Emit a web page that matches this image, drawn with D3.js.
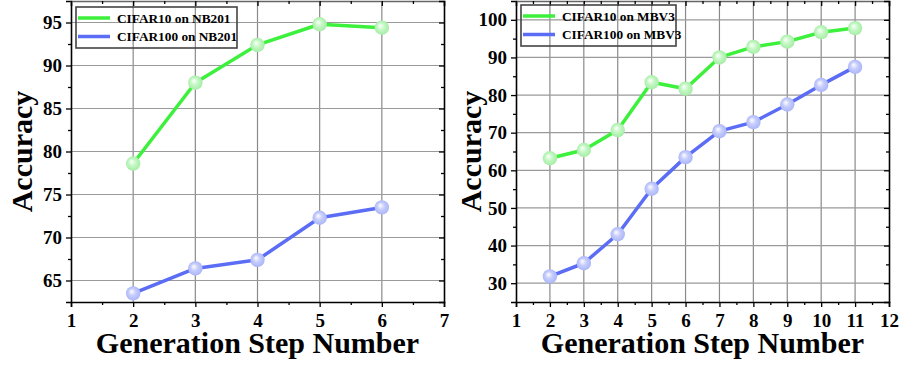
<!DOCTYPE html>
<html>
<head>
<meta charset="utf-8">
<script src="https://cdn.jsdelivr.net/npm/d3@7"></script>
<style>
  body { margin: 0; background: #fff; }
  svg { display: block; }
  text { font-family: "Liberation Serif", "Times New Roman", serif; font-weight: bold; fill: #000; }
</style>
</head>
<body>
<svg id="chart" width="914" height="366"></svg>
<script>
// NB201 panel
const nbSteps = [2, 3, 4, 5, 6];
const nbCifar10 = [78.6, 88.0, 92.4, 94.8, 94.4];
const nbCifar100 = [63.5, 66.4, 67.4, 72.3, 73.5];

// MBV3 panel
const mbSteps = [2, 3, 4, 5, 6, 7, 8, 9, 10, 11];
const mbCifar10 = [63.2, 65.4, 70.7, 83.4, 81.7, 90.0, 92.8, 94.2, 96.7, 97.8];
const mbCifar100 = [31.8, 35.3, 43.0, 55.1, 63.5, 70.4, 72.8, 77.5, 82.7, 87.5];

const nbXTicks = [1, 2, 3, 4, 5, 6, 7];
const nbYTicks = [65, 70, 75, 80, 85, 90, 95];
const mbXTicks = [1, 2, 3, 4, 5, 6, 7, 8, 9, 10, 11, 12];
const mbYTicks = [30, 40, 50, 60, 70, 80, 90, 100];

const greenLine = '#3cf03c';
const blueLine = '#5b6cf5';

const svg = d3.select('#chart');

// sphere-like marker gradients
const defs = svg.append('defs');
function sphere(id, base, edge) {
    const g = defs.append('radialGradient')
        .attr('id', id)
        .attr('cx', '50%').attr('cy', '50%').attr('r', '55%')
        .attr('fx', '38%').attr('fy', '35%');
    g.append('stop').attr('offset', '0%').attr('stop-color', '#ffffff');
    g.append('stop').attr('offset', '45%').attr('stop-color', base);
    g.append('stop').attr('offset', '100%').attr('stop-color', edge);
}
sphere('ballGreen', '#c4f8c4', '#a2eaa2');
sphere('ballBlue', '#c6cdfd', '#a6b2f6');

// tick marks only, no labels
function marks(sel) {
    sel.select('.domain').remove();
    sel.selectAll('text').remove();
}

function drawPanel(opt) {
    const { left, right, top, bottom } = opt;
    const x = d3.scaleLinear().domain(opt.xDomain).range([left, right]);
    const y = d3.scaleLinear().domain(opt.yDomain).range([bottom, top]);
    const g = svg.append('g');

    // grid
    g.append('g').selectAll('line')
        .data(opt.xTicks.slice(1, -1))
        .join('line')
        .attr('x1', d => x(d)).attr('x2', d => x(d))
        .attr('y1', top).attr('y2', bottom)
        .attr('stroke', '#8a8a8a').attr('stroke-width', 1.2);
    g.append('g').selectAll('line')
        .data(opt.yTicks)
        .join('line')
        .attr('x1', left).attr('x2', right)
        .attr('y1', d => y(d)).attr('y2', d => y(d))
        .attr('stroke', '#9a9a9a').attr('stroke-width', 1.2);

    // axes (outward on left/bottom, inward mirror on top/right)
    const minorX = d3.range(opt.xDomain[0] + 0.5, opt.xDomain[1], 1);
    const minorY = d3.range(opt.yTicks[0] - opt.yStep / 2, opt.yDomain[1], opt.yStep)
        .filter(v => v > opt.yDomain[0] && v < opt.yDomain[1]);

    const bottomAxis = g.append('g').attr('transform', `translate(0,${bottom})`)
        .call(d3.axisBottom(x).tickValues(opt.xTicks).tickFormat(d3.format('d'))
            .tickSize(5).tickPadding(7));
    bottomAxis.selectAll('text').style('font-size', '19px');
    g.append('g').attr('transform', `translate(0,${bottom})`)
        .call(d3.axisBottom(x).tickValues(minorX).tickSize(3))
        .call(marks);

    const leftAxis = g.append('g').attr('transform', `translate(${left},0)`)
        .call(d3.axisLeft(y).tickValues(opt.yTicks).tickSize(5).tickPadding(4));
    leftAxis.selectAll('text').style('font-size', '19px');
    g.append('g').attr('transform', `translate(${left},0)`)
        .call(d3.axisLeft(y).tickValues(minorY).tickSize(3))
        .call(marks);

    g.append('g').attr('transform', `translate(0,${top})`)
        .call(d3.axisBottom(x).tickValues(opt.xTicks).tickSize(5))
        .call(a => a.selectAll('text').remove())
        .call(a => a.select('.domain').attr('stroke', '#666'));
    g.append('g').attr('transform', `translate(0,${top})`)
        .call(d3.axisBottom(x).tickValues(minorX).tickSize(3))
        .call(marks);
    g.append('g').attr('transform', `translate(${right},0)`)
        .call(d3.axisLeft(y).tickValues(opt.yTicks).tickSize(5))
        .call(a => a.selectAll('text').remove());
    g.append('g').attr('transform', `translate(${right},0)`)
        .call(d3.axisLeft(y).tickValues(minorY).tickSize(3))
        .call(marks);

    g.selectAll('.domain').attr('stroke-width', 1.6);
    g.selectAll('.tick line').attr('stroke-width', 1.3);

    // axis titles
    g.append('text')
        .attr('x', (left + right) / 2).attr('y', bottom + 51)
        .attr('text-anchor', 'middle').style('font-size', '30px')
        .text('Generation Step Number');
    g.append('text')
        .attr('transform', `translate(${opt.yTitleX},${(top + bottom) / 2}) rotate(-90)`)
        .attr('text-anchor', 'middle').style('font-size', '30px')
        .text('Accuracy');

    // series
    const line = d3.line().x(d => x(d[0])).y(d => y(d[1]));
    opt.series.forEach(s => {
        const pts = opt.steps.map((d, i) => [d, s.values[i]]);
        g.append('path').datum(pts)
            .attr('d', line)
            .attr('fill', 'none')
            .attr('stroke', s.color)
            .attr('stroke-width', 3.5)
            .attr('stroke-linejoin', 'round');
        g.append('g').selectAll('circle')
            .data(pts)
            .join('circle')
            .attr('cx', d => x(d[0])).attr('cy', d => y(d[1]))
            .attr('r', 7.2)
            .attr('fill', `url(#${s.ball})`);
    });

    // legend (transparent box, grid shows through)
    const lg = g.append('g');
    lg.append('rect')
        .attr('x', opt.legend.x).attr('y', opt.legend.y)
        .attr('width', opt.legend.w).attr('height', opt.legend.h)
        .attr('fill', 'none').attr('stroke', '#444').attr('stroke-width', 1.6);
    opt.series.forEach((s, i) => {
        const ly = opt.legend.y + 11 + i * 18.5;
        lg.append('line')
            .attr('x1', opt.legend.x + 2).attr('x2', opt.legend.x + 34)
            .attr('y1', ly).attr('y2', ly)
            .attr('stroke', s.color).attr('stroke-width', 3.5);
        lg.append('text')
            .attr('x', opt.legend.x + 41).attr('y', ly + 4.5)
            .style('font-size', '13.3px')
            .text(s.name);
    });
}

drawPanel({
    left: 71, right: 444, top: 1, bottom: 302,
    xDomain: [1, 7], yDomain: [62.5, 97.5], yStep: 5,
    xTicks: nbXTicks, yTicks: nbYTicks,
    yTitleX: 32,
    steps: nbSteps,
    series: [
        { name: 'CIFAR10 on NB201', values: nbCifar10, color: greenLine, ball: 'ballGreen' },
        { name: 'CIFAR100 on NB201', values: nbCifar100, color: blueLine, ball: 'ballBlue' }
    ],
    legend: { x: 76, y: 7, w: 161, h: 41 }
});

drawPanel({
    left: 516, right: 889, top: 1, bottom: 302,
    xDomain: [1, 12], yDomain: [25, 105], yStep: 10,
    xTicks: mbXTicks, yTicks: mbYTicks,
    yTitleX: 481,
    steps: mbSteps,
    series: [
        { name: 'CIFAR10 on MBV3', values: mbCifar10, color: greenLine, ball: 'ballGreen' },
        { name: 'CIFAR100 on MBV3', values: mbCifar100, color: blueLine, ball: 'ballBlue' }
    ],
    legend: { x: 521, y: 5, w: 155, h: 41 }
});
</script>
</body>
</html>
